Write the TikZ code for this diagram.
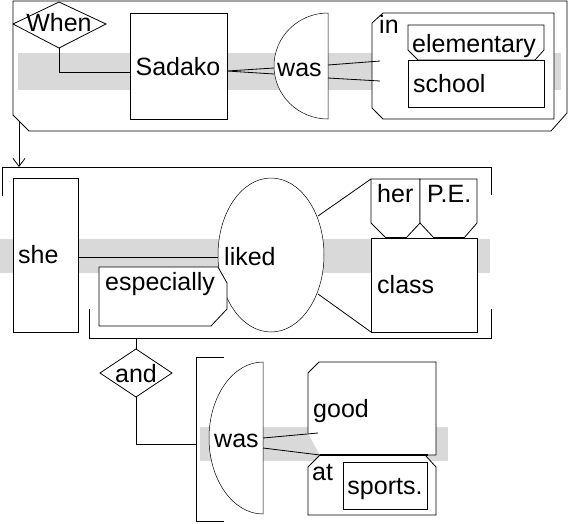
\documentclass[tikz,border=0pt]{standalone}
\usepackage{fontspec}
\setmainfont{Liberation Sans}
\usetikzlibrary{arrows.meta}
\definecolor{bandgray}{HTML}{D9D9D9}

\begin{document}
\begin{tikzpicture}[x=1pt,y=-1pt,
    every node/.style={font=\fontsize{25}{29}\selectfont, inner sep=0pt, anchor=base},
    word/.style={anchor=base west},
    line/.style={draw, line width=0.8pt},
    box/.style={draw, fill=white, line width=0.8pt},
    soft/.style={draw, fill=white, line width=0.5pt},
    band/.style={fill=bandgray},
    overlap/.style={draw, line width=2pt}]
        \useasboundingbox (0,0) rectangle (568,523);
        % first clause frame
        \draw[box] (13,1) -- (567,1) -- (567,113) -- (551,131) -- (29,131) -- (13,115) coordinate (frameone) -- cycle;
        \fill[band] (18,53) rectangle (561,90);
        % When and Sadako
        \draw[box] (13,24) -- (59,2) -- (106,24) -- (59,48) coordinate (when-s) -- cycle;
        \node (when) at (59,31) {When};
        \draw[box] (130,13) rectangle (227,119);
        \node (sadako) at (178,75) {Sadako};
        \draw[line] (when-s) |- (130,72) coordinate (sadako-w);
        % was
        \draw[soft] (328,13) arc[start angle=-90, end angle=-270, x radius=54, y radius=53] coordinate (wasone-w) -- cycle;
        \node[word] (wasone) at (277,76) {was};
        \draw[line] (274,68) -- (227,71) coordinate (sadako-e) -- (274,74);
        % in elementary school
        \draw[box] (372,23) -- (383,13) -- (554,13) -- (554,119) -- (383,119) -- (372,108) -- cycle;
        \draw[line] (328,65) -- (380,61);
        \draw[line] (328,78) -- (380,81);
        \node[word] (in) at (379,33) {in};
        \draw[box] (408,25) -- (544,25) -- (544,50) -- (535,60) -- (418,60) -- (408,50) -- cycle;
        \node[word] (elementary) at (412,52) {elementary};
        \draw[box] (408,60) rectangle (544,107);
        \node[word] (school) at (413,92) {school};
        % link to second clause
        \draw[line,-{Straight Barb[length=8pt,width=12pt]}] (19,121) -- (19,167) coordinate (frametwo);

        % second clause frame
        \draw[line] (2,196) -- (2,167) -- (491,167) -- (491,195);
        \draw[line] (89,309) -- (89,338) -- (491,338) -- (491,309);
        \fill[band] (0,239) rectangle (490,273);
        % she liked
        \draw[box] (13,178) rectangle (78,332);
        \node[word] (she) at (18,263) {she};
        \draw[line] (78,257) coordinate (she-e) -- (218,257) coordinate (liked-w);
        \draw[soft] (271,255) ellipse[x radius=53, y radius=77];
        \node[word] (liked) at (224,265) {liked};
        \draw[line] (318,216) -- (371,179);
        \draw[line] (318,294) -- (371,332);
        \draw[box] (99,267) -- (218,267) -- (227,283) -- (227,309) -- (211,326) -- (99,326) -- cycle;
        \node[word] (especially) at (105,290) {especially};
        % her P.E. class
        \draw[box] (371,179) -- (420,179) -- (420,223) -- (406,238) -- (386,238) -- (371,223) -- cycle;
        \node[word] (her) at (377,202) {her};
        \draw[box] (420,179) -- (477,179) -- (477,223) -- (464,238) -- (434,238) -- (420,223) -- cycle;
        \node[word] (pe) at (427,202) {P.E.};
        \draw[box] (371,238) rectangle (477,332);
        \draw[overlap] (386,238) -- (406,238) (434,238) -- (464,238);
        \node[word] (class) at (377,293) {class};

        % and
        \draw[line] (136,338) -- (136,349) coordinate (and-n);
        \draw[box] (100,373) -- (and-n) -- (172,373) -- (136,397) coordinate (and-s) -- cycle;
        \node (and) at (136,382) {and};
        \draw[line] (and-s) |- (196,444);
        \draw[line] (224,357) -- (196,357) -- (196,521) -- (224,521);
        \fill[band] (200,427) rectangle (448,461);
        % was good at sports
        \draw[soft] (263,362) arc[start angle=-90, end angle=-270, x radius=54, y radius=76] -- cycle;
        \node[word] (wastwo) at (214,447) {was};
        \draw[box] (308,433) -- (308,373) -- (319,362) -- (436,362) -- (436,455) -- (320,455);
        \node[word] (good) at (313,417) {good};
        \draw[box] (308,467) -- (320,455) -- (425,455) -- (436,467) -- (436,515) -- (308,515) -- cycle;
        \draw[overlap] (320,455) -- (428,455);
        \node[word] (at) at (312,480) {at};
        \draw[line] (263,438) -- (318,433);
        \draw[line] (263,448) -- (320,455);
        \draw[box] (343,462) rectangle (427,509);
        \node (sports) at (385,494) {sports.};
\end{tikzpicture}
\end{document}
